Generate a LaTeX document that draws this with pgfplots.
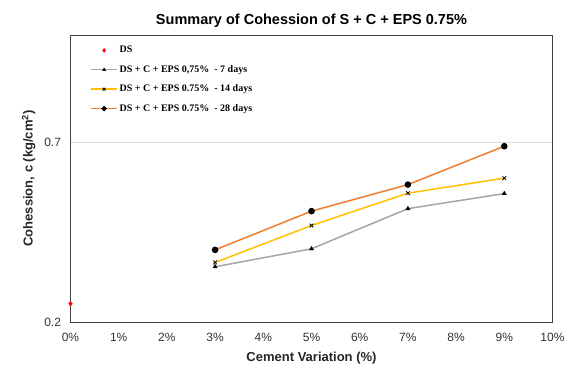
\documentclass[border=0pt]{standalone}
\usepackage{pgfplots}
\pgfplotsset{compat=1.18}
\usepackage{fontspec}
\setmainfont{Liberation Sans}
\newfontfamily\legfont{Liberation Serif}
\definecolor{cgray}{RGB}{165,165,165}
\definecolor{cyellow}{RGB}{255,192,0}
\definecolor{corange}{RGB}{237,125,49}
\pgfplotsset{
  linelegend/.style={legend image code/.code={
    \draw[##1, mark=none] (0cm,0cm) -- (0.9cm,0cm);
    \path[##1, draw=none] plot[every mark/.append style={scale=0.75}] coordinates {(0.45cm,0cm)};}},
  marklegend/.style={legend image code/.code={
    \path[##1] plot[every mark/.append style={scale=0.85}] coordinates {(0.45cm,0cm)};}},
}
\begin{document}
\begin{tikzpicture}
\begin{axis}[
  name=ax,
  scale only axis,
  width=482pt, height=287pt,
  xmin=0, xmax=10, ymin=0.2, ymax=1.0,
  xtick={0,1,...,10},
  ytick={0.2,0.7},
  yticklabel style={/pgf/number format/fixed,/pgf/number format/precision=1},
  xticklabel={\pgfmathprintnumber{\tick}\%},
  /pgf/number format/assume math mode=true,
  major tick length=0pt,
  ymajorgrids,
  grid style={color=black!15, line width=0.6pt},
  axis line style={color=black!75, line width=0.8pt},
  tick label style={font=\fontsize{12}{14}\selectfont, text=black!80},
  xticklabel style={yshift=-8pt},
  yticklabel style={xshift=-6pt},
  xlabel={\textbf{Cement Variation (\%)}},
  ylabel={\textbf{Cohession, c (kg/cm\textsuperscript{2})}},
  label style={font=\fontsize{13}{15}\selectfont, text=black!85},
  xlabel style={yshift=-3pt},
  ylabel style={yshift=2pt},
  title={\textbf{Summary of Cohession of S + C + EPS 0.75\%}},
  title style={font=\fontsize{14.5}{16}\selectfont, yshift=-2pt},
  legend style={at={(rel axis cs:0.035,0.975)}, anchor=north west, draw=none, fill=none,
    font=\legfont\bfseries\fontsize{10}{11}\selectfont, row sep=7pt,
    legend cell align=left},
]
\addplot[only marks, mark=diamond*, color=red, mark size=2.4pt, marklegend] coordinates {(0,0.251)};
\addlegendentry{DS}
\addplot[color=cgray, line width=1.5pt, mark=triangle*, mark size=2.4pt, mark options={black, solid, line width=0.4pt}, linelegend]
  coordinates {(3,0.354) (5,0.404) (7,0.516) (9,0.558)};
\addlegendentry{DS + C + EPS 0,75\% \ - 7 days}
\addplot[color=cyellow, line width=1.5pt, mark=x, mark size=2.6pt, mark options={black, solid, line width=0.8pt}, linelegend]
  coordinates {(3,0.366) (5,0.469) (7,0.559) (9,0.601)};
\addlegendentry{DS + C + EPS 0.75\% \ - 14 days}
\addplot[color=corange, line width=1.5pt, mark=*, mark size=2.5pt, mark options={black, solid}, linelegend]
  coordinates {(3,0.401) (5,0.509) (7,0.583) (9,0.690)};
\addlegendentry{DS + C + EPS 0.75\% \ - 28 days}
\end{axis}
\pgfresetboundingbox
\path ([shift={(-70.5pt,-47pt)}]ax.south west) rectangle ([shift={(20.5pt,35pt)}]ax.north east);
\end{tikzpicture}
\end{document}
